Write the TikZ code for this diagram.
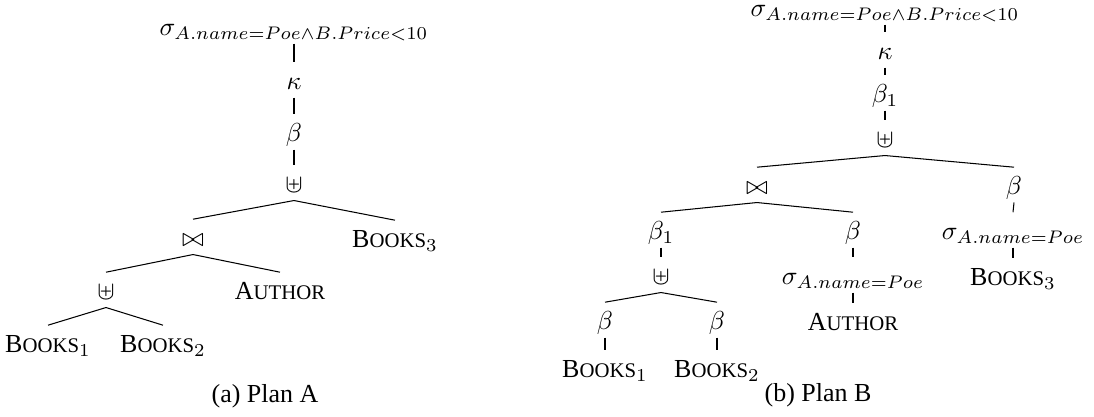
\documentclass[tikz,border=0pt]{standalone}
\usepackage[no-math]{fontspec}
\setmainfont{Liberation Serif}
\usepackage{amsmath,amssymb}
\usetikzlibrary{positioning}

% small caps made by hand
\newcommand{\rsc}[2]{#1{\footnotesize #2}}

\begin{document}
\begin{tikzpicture}[x=0.385pt, y=-0.385pt,
		op/.style={anchor=base, inner xsep=1pt, inner ysep=1pt, text height=9.5pt, text depth=1.7pt},
		caption/.style={anchor=base}]
		\useasboundingbox (0,0) rectangle (1094,417);

		% Plan A
		\node[op] (sA)  at (294,36)  {$\sigma_{A.name=Poe\land B.Price<10}$};
		\node[op] (kA)  at (294,90)  {$\kappa$};
		\node[op] (bA)  at (294,142) {$\beta$};
		\node[op] (uA)  at (294,193) {$\uplus$};
		\node[op] (jA)  at (193,247) {$\bowtie$};
		\node[op] (b3A) at (395,248) {\rsc{B}{OOKS}$_3$};
		\node[op] (u2A) at (106,300) {$\uplus$};
		\node[op] (auA) at (280,300) {\rsc{A}{UTHOR}};
		\node[op] (b1A) at (48,353)  {\rsc{B}{OOKS}$_1$};
		\node[op] (b2A) at (163,353) {\rsc{B}{OOKS}$_2$};
		\node[caption] (capA) at (265,403) {(a) Plan A};

		% Connect plan A
		\draw (sA.south) -- (kA.north);
		\draw (kA.south) -- (bA.north);
		\draw (bA.south) -- (uA.north);
		\draw (uA.south) -- (jA.north);
		\draw (uA.south) -- (b3A.north);
		\draw (jA.south) -- (u2A.north);
		\draw (jA.south) -- (auA.north);
		\draw (u2A.south) -- (b1A.north);
		\draw (u2A.south) -- (b2A.north);

		% Plan B
		\node[op] (sB)   at (885,17)  {$\sigma_{A.name=Poe\land B.Price<10}$};
		\node[op] (kB)   at (885,60)  {$\kappa$};
		\node[op] (bB)   at (885,103) {$\beta_1$};
		\node[op] (uB)   at (885,148) {$\uplus$};
		\node[op] (jB)   at (757,195) {$\bowtie$};
		\node[op] (brB)  at (1014,195) {$\beta$};
		\node[op] (blB)  at (661,240) {$\beta_1$};
		\node[op] (bmB)  at (853,240) {$\beta$};
		\node[op] (srB)  at (1013,240) {$\sigma_{A.name=Poe}$};
		\node[op] (u2B)  at (661,285) {$\uplus$};
		\node[op] (smB)  at (853,285) {$\sigma_{A.name=Poe}$};
		\node[op] (b3B)  at (1013,286) {\rsc{B}{OOKS}$_3$};
		\node[op] (b4B)  at (605,330) {$\beta$};
		\node[op] (b5B)  at (717,330) {$\beta$};
		\node[op] (auB)  at (853,331) {\rsc{A}{UTHOR}};
		\node[op] (b1B)  at (605,378) {\rsc{B}{OOKS}$_1$};
		\node[op] (b2B)  at (717,378) {\rsc{B}{OOKS}$_2$};
		\node[caption] (capB) at (818,402) {(b) Plan B};

		% Connect plan B
		\draw (sB.south) -- (kB.north);
		\draw (kB.south) -- (bB.north);
		\draw (bB.south) -- (uB.north);
		\draw (uB.south) -- (jB.north);
		\draw (uB.south) -- (brB.north);
		\draw (jB.south) -- (blB.north);
		\draw (jB.south) -- (bmB.north);
		\draw (brB.south) -- (srB.north);
		\draw (srB.south) -- (b3B.north);
		\draw (blB.south) -- (u2B.north);
		\draw (bmB.south) -- (smB.north);
		\draw (smB.south) -- (auB.north);
		\draw (u2B.south) -- (b4B.north);
		\draw (u2B.south) -- (b5B.north);
		\draw (b4B.south) -- (b1B.north);
		\draw (b5B.south) -- (b2B.north);
\end{tikzpicture}
\end{document}
